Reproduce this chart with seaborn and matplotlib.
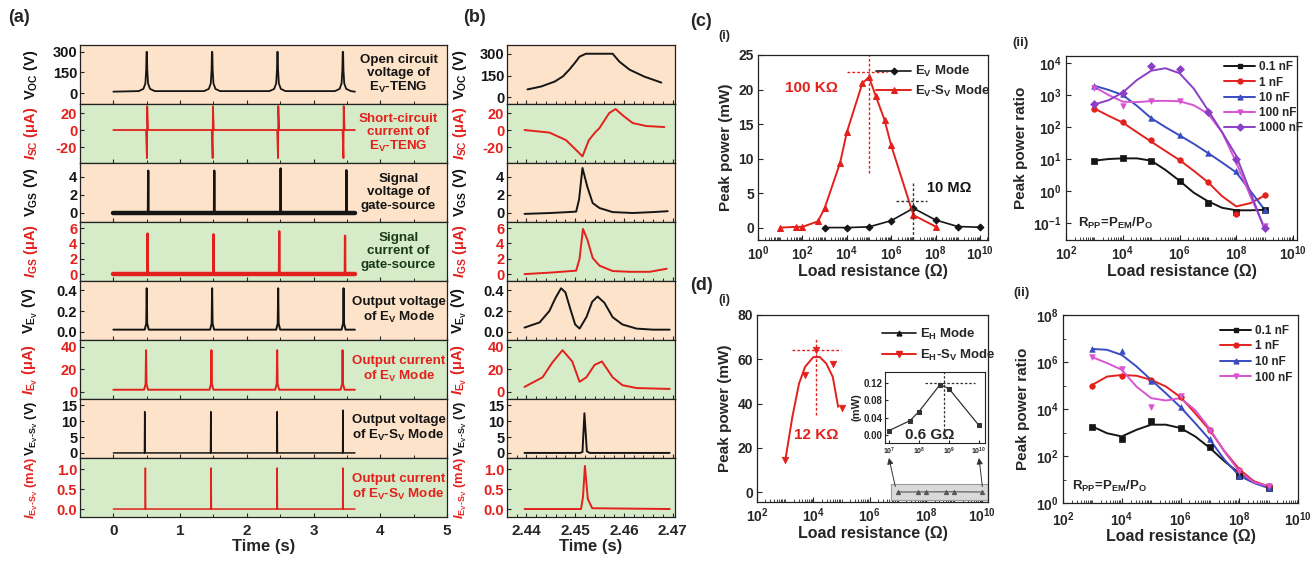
import numpy as np
import matplotlib
matplotlib.use("Agg")
import matplotlib.pyplot as plt
import seaborn as sns
from matplotlib.lines import Line2D
from matplotlib.patches import Rectangle, ConnectionPatch
from matplotlib.ticker import MultipleLocator, LogLocator, FormatStrFormatter, NullFormatter

# ---------------- (a) full time traces ----------------
a_voc_t = [0.0, 0.38, 0.45, 0.48, 0.492, 0.497, 0.503, 0.508, 0.52, 0.55, 0.62,
           1.36, 1.43, 1.46, 1.472, 1.477, 1.483, 1.488, 1.50, 1.53, 1.60,
           2.34, 2.41, 2.44, 2.452, 2.457, 2.463, 2.468, 2.48, 2.51, 2.58,
           3.32, 3.39, 3.42, 3.432, 3.437, 3.443, 3.448, 3.46, 3.49, 3.56, 3.62]
a_voc_v = [10, 14, 30, 70, 170, 300, 300, 170, 70, 30, 14,
           14, 30, 70, 170, 300, 300, 170, 70, 30, 14,
           14, 30, 70, 170, 300, 300, 170, 70, 30, 14,
           14, 30, 70, 170, 300, 300, 170, 70, 30, 14, 10]

a_isc_t = [0.0, 0.49, 0.503, 0.507, 0.52, 1.475, 1.488, 1.492, 1.505,
           2.455, 2.468, 2.472, 2.485, 3.435, 3.448, 3.452, 3.465, 3.62]
a_isc_v = [0, 0, -33, 28, 0, 0, -33, 28, 0, 0, -33, 28, 0, 0, -33, 28, 0, 0]

a_vgs_t = [0.0, 0.518, 0.522, 0.526, 1.508, 1.512, 1.516, 2.503, 2.507, 2.511,
           3.488, 3.492, 3.496, 3.62]
a_vgs_v = [0.05, 0.05, 4.7, 0.1, 0.05, 4.7, 0.1, 0.05, 4.95, 0.1, 0.05, 4.75, 0.1, 0.05]

a_igs_t = [0.0, 0.508, 0.512, 0.516, 1.497, 1.501, 1.505, 2.482, 2.486, 2.49,
           3.468, 3.472, 3.476, 3.62]
a_igs_v = [0.05, 0.05, 5.3, 0.1, 0.05, 5.2, 0.1, 0.05, 5.6, 0.1, 0.05, 5.0, 0.1, 0.05]

# thick noisy baseline of the two gate-source traces
a_base_t = [0.0, 3.62]
a_vgs_base = [0.05, 0.05]
a_igs_base = [0.05, 0.05]

a_vev_t = [0.0, 0.47, 0.493, 0.5, 0.507, 0.53, 1.45, 1.473, 1.48, 1.487, 1.51,
           2.44, 2.463, 2.47, 2.477, 2.5, 3.42, 3.443, 3.45, 3.457, 3.48, 3.62]
a_vev_v = [0.02, 0.02, 0.08, 0.42, 0.08, 0.02, 0.02, 0.08, 0.42, 0.08, 0.02,
           0.02, 0.08, 0.42, 0.08, 0.02, 0.02, 0.08, 0.42, 0.08, 0.02, 0.02]

a_iev_t = [0.0, 0.46, 0.483, 0.49, 0.497, 0.52, 1.44, 1.463, 1.47, 1.477, 1.5,
           2.425, 2.448, 2.455, 2.462, 2.485, 3.405, 3.428, 3.435, 3.442, 3.465, 3.62]
a_iev_v = [2, 2, 7, 37, 7, 2, 2, 7, 37, 7, 2, 2, 7, 37, 7, 2, 2, 7, 37, 7, 2, 2]

a_vevsv_t = [0.0, 0.466, 0.47, 0.474, 1.456, 1.46, 1.464, 2.451, 2.455, 2.459,
             3.436, 3.44, 3.444, 3.62]
a_vevsv_v = [0, 0, 13, 0, 0, 13, 0, 0, 13, 0, 0, 13.5, 0, 0]

a_ievsv_t = [0.0, 0.476, 0.48, 0.484, 1.461, 1.465, 1.469, 2.451, 2.455, 2.459,
             3.436, 3.44, 3.444, 3.62]
a_ievsv_v = [0, 0, 1.03, 0, 0, 1.03, 0, 0, 1.03, 0, 0, 1.03, 0, 0]

# ---------------- (b) zoom around one pulse ----------------
b_voc_t = [2.4402, 2.4430, 2.4458, 2.4475, 2.4488, 2.4500, 2.4509, 2.4522,
           2.4577, 2.4591, 2.4612, 2.4642, 2.4677]
b_voc_v = [55, 75, 109, 145, 191, 240, 280, 300, 300, 245, 190, 143, 102]

b_isc_t = [2.4396, 2.4447, 2.4481, 2.4502, 2.4515, 2.4528, 2.4540, 2.4550,
           2.4570, 2.4583, 2.4597, 2.4618, 2.4646, 2.4683]
b_isc_v = [0, -3, -11.8, -23.5, -31, -12, -3.5, 2.4, 20, 24.7, 17.6, 8.2, 4.7, 3.5]

b_vgs_t = [2.4396, 2.4450, 2.4502, 2.4508, 2.4515, 2.4525, 2.4536, 2.4550,
           2.4577, 2.4618, 2.4660, 2.4690]
b_vgs_v = [-0.1, 0.0, 0.15, 1.5, 5.0, 2.9, 1.1, 0.55, 0.1, 0.0, 0.1, 0.2]

b_igs_t = [2.4396, 2.4450, 2.4502, 2.4509, 2.4516, 2.4525, 2.4536, 2.4550,
           2.4577, 2.4612, 2.4653, 2.4688]
b_igs_v = [0.0, 0.2, 0.45, 2.0, 5.9, 4.5, 2.1, 1.1, 0.4, 0.3, 0.3, 0.7]

b_vev_t = [2.4396, 2.4427, 2.4447, 2.4460, 2.4471, 2.4480, 2.4490, 2.4500, 2.4509,
           2.4523, 2.4535, 2.4546, 2.4560, 2.4577, 2.4597, 2.4626, 2.4660, 2.4694]
b_vev_v = [0.04, 0.09, 0.2, 0.33, 0.42, 0.38, 0.22, 0.07, 0.03,
           0.14, 0.29, 0.34, 0.28, 0.14, 0.07, 0.03, 0.02, 0.02]

b_iev_t = [2.4396, 2.4433, 2.4453, 2.4474, 2.4494, 2.4509, 2.4523, 2.4540,
           2.4555, 2.4577, 2.4597, 2.4626, 2.4694]
b_iev_v = [4.5, 13, 26, 37, 27, 9, 13, 24, 27, 13, 6, 3.5, 2.7]

b_vevsv_t = [2.4396, 2.4510, 2.4515, 2.4519, 2.4524, 2.4530, 2.4694]
b_vevsv_v = [0, 0, 0.3, 12.5, 0.5, 0, 0]

b_ievsv_t = [2.4396, 2.4512, 2.4516, 2.4520, 2.4526, 2.4535, 2.4694]
b_ievsv_v = [0, 0, 0.3, 1.08, 0.25, 0.02, 0]

row_labels = [r"$\rm V_{OC}$ (V)", r"$I_{\rm SC}$ (μA)", r"$\rm V_{GS}$ (V)",
              r"$I_{\rm GS}$ (μA)", r"$\rm V_{E_V}$ (V)", r"$I_{\rm E_V}$ (μA)",
              r"$\rm V_{E_V\text{-}S_V}$ (V)", r"$I_{\rm E_V\text{-}S_V}$ (mA)"]
row_label_sizes = [10.5, 10.5, 10.5, 10.5, 10.5, 10.5, 9.3, 9.3]
row_ticks = [[0, 150, 300], [-20, 0, 20], [0, 2, 4], [0, 2, 4, 6],
             [0.0, 0.2, 0.4], [0, 20, 40], [0, 5, 10, 15], [0.0, 0.5, 1.0]]
row_texts = ["Open circuit\nvoltage of\nE$_{\\rm V}$-TENG",
             "Short-circuit\ncurrent of\nE$_{\\rm V}$-TENG",
             "Signal\nvoltage of\ngate-source",
             "Signal\ncurrent of\ngate-source",
             "Output voltage\nof E$_{\\rm V}$ Mode",
             "Output current\nof E$_{\\rm V}$ Mode",
             "Output voltage\nof E$_{\\rm V}$-S$_{\\rm V}$ Mode",
             "Output current\nof E$_{\\rm V}$-S$_{\\rm V}$ Mode"]

# ---------------- (c)(i) ----------------
ci_ev_x = [1e3, 1e4, 1e5, 1e6, 1e7, 1e8, 1e9, 1e10]
ci_ev_p = [0.0, 0.0, 0.1, 1.0, 2.8, 1.1, 0.15, 0.05]
ci_evsv_x = [10, 50, 100, 500, 1e3, 5e3, 1e4, 5e4, 1e5, 2e5, 5e5, 1e6, 1e7, 1e8]
ci_evsv_p = [0.0, 0.1, 0.1, 0.9, 2.8, 9.4, 13.8, 20.9, 21.8, 19.1, 15.6, 11.9, 1.8, 0.15]

# ---------------- (c)(ii) ----------------
cii_x = [1e3, 1e4, 1e5, 1e6, 1e7, 1e8, 1e9]
cii_01 = [8.9, 11, 9, 2.1, 0.41, 0.22, 0.26]
cii_1 = [360, 140, 38, 9.3, 1.95, 0.19, 0.75]
cii_10 = [1950, 1070, 195, 55, 15.5, 4.3, 0.26]
cii_100 = [1700, 470, 660, 660, 270, 8, 0.08]
cii_1000 = [520, 1170, 7900, 6600, 300, 10, 0.07]
fit_x = [1e3, 3.16e3, 1e4, 3.16e4, 1e5, 3.16e5, 1e6, 3.16e6, 1e7, 3.16e7, 1e8, 3.16e8, 1e9]
cii_01_fit = [8.9, 10, 10.5, 10.5, 8.9, 4.6, 2.1, 0.89, 0.48, 0.30, 0.25, 0.25, 0.26]
cii_1_fit = [380, 224, 138, 69, 35, 18, 9.3, 4.3, 1.9, 0.69, 0.33, 0.42, 0.72]
cii_10_fit = [1950, 1450, 1000, 460, 190, 100, 55, 30, 15.5, 7.8, 3.8, 1.0, 0.26]
cii_100_fit = [1800, 1000, 620, 600, 650, 660, 640, 480, 265, 69, 7.8, 0.69, 0.07]
cii_1000_fit = [510, 690, 1200, 2950, 5750, 6900, 4800, 1600, 340, 69, 12.6, 0.9, 0.063]

# ---------------- (d)(i) ----------------
di_eh_x = [1e7, 5e7, 1e8, 5e8, 1e9, 1e10]
di_eh_p = [0.01, 0.033, 0.054, 0.116, 0.107, 0.022]
di_ehsv_x = [1e3, 5e3, 1.2e4, 5e4, 1e5]
di_ehsv_p = [14.5, 53, 64, 58, 38]
di_fit_x = [1e3, 1.8e3, 3.1e3, 5.1e3, 1e4, 1.7e4, 2.9e4, 4.9e4, 7.6e4]
di_fit_p = [14, 34, 49, 56.6, 61, 61, 58, 52, 38.5]

# ---------------- (d)(ii) ----------------
dii_x = [1e3, 1e4, 1e5, 1e6, 1e7, 1e8, 1e9]
dii_01 = [1800, 540, 2950, 1600, 240, 14, 4.3]
dii_1 = [1.0e5, 2.6e5, 1.7e5, 3.2e4, 1300, 26, 5.1]
dii_10 = [3.6e6, 3.0e6, 1.6e5, 1.2e4, 520, 13.6, 4.3]
dii_100 = [1.6e6, 4.9e5, 1.2e4, 3.6e4, 1200, 22, 5.1]
dii_01_fit = [1800, 930, 680, 1300, 2150, 2150, 1550, 680, 220, 59, 18.6, 8.3, 4.8]
dii_1_fit = [1.07e5, 2.4e5, 2.8e5, 2.6e5, 1.74e5, 9.1e4, 3.2e4, 6.6e3, 1.23e3, 158, 27.5, 8.3, 5.1]
dii_10_fit = [3.6e6, 3.3e6, 2.0e6, 6.5e5, 1.74e5, 4.7e4, 1.2e4, 2.5e3, 490, 69, 14.5, 7.1, 4.3]
dii_100_fit = [1.6e6, 9e5, 4.7e5, 9e4, 2.9e4, 2.3e4, 2.9e4, 9e3, 1.4e3, 150, 22, 7.6, 5.1]

# ---------------- style ----------------
sns.set_style("ticks")
plt.rcParams["font.family"] = ["Liberation Sans", "DejaVu Sans"]
plt.rcParams["font.weight"] = "bold"
plt.rcParams["axes.labelweight"] = "bold"
plt.rcParams["mathtext.fontset"] = "custom"
plt.rcParams["mathtext.rm"] = "Liberation Sans:bold"
plt.rcParams["mathtext.it"] = "Liberation Sans:italic:bold"
plt.rcParams["mathtext.bf"] = "Liberation Sans:bold"
plt.rcParams["mathtext.sf"] = "Liberation Sans:bold"
plt.rcParams["axes.unicode_minus"] = False

PEACH = "#fce3c9"
GREEN = "#d6ebc8"
RED = "#e3211c"
BLACK = "#151515"
BLUE = "#3a4cc2"
MAGENTA = "#d855d2"
PURPLE = "#8a3fc6"

W, H = 1315, 563
fig = plt.figure(figsize=(W / 100, H / 100), dpi=100)


def box(l, t, r, b):
    return [l / W, 1 - b / H, (r - l) / W, (b - t) / H]


def ftext(x, y, s, **kw):
    fig.text(x / W, 1 - y / H, s, **kw)


def frame(ax, lw=0.9):
    for s in ax.spines.values():
        s.set_linewidth(lw)
        s.set_color("#222222")


a_series = [(a_voc_t, a_voc_v), (a_isc_t, a_isc_v), (a_vgs_t, a_vgs_v), (a_igs_t, a_igs_v),
            (a_vev_t, a_vev_v), (a_iev_t, a_iev_v), (a_vevsv_t, a_vevsv_v), (a_ievsv_t, a_ievsv_v)]
b_series = [(b_voc_t, b_voc_v), (b_isc_t, b_isc_v), (b_vgs_t, b_vgs_v), (b_igs_t, b_igs_v),
            (b_vev_t, b_vev_v), (b_iev_t, b_iev_v), (b_vevsv_t, b_vevsv_v), (b_ievsv_t, b_ievsv_v)]
a_baselines = {2: a_vgs_base, 3: a_igs_base}
ylims_a = [(-80, 350), (-38.8, 30.6), (-1.0, 5.55), (-0.9, 6.8),
           (-0.08, 0.49), (-6.2, 46), (-1.6, 17), (-0.2, 1.28)]
ylims_b = [(-45, 360)] + ylims_a[1:]
a_lw = [1.3, 1.3, 1.6, 1.6, 1.4, 1.4, 1.1, 1.1]
text_colors = [BLACK, RED, BLACK, "#1b3a1b", BLACK, RED, BLACK, RED]

row_top = 45
row_h = (517 - 45) / 8
for i in range(8):
    top = row_top + i * row_h
    bot = top + row_h
    c = BLACK if i % 2 == 0 else RED
    bg = PEACH if i % 2 == 0 else GREEN
    for panel in ("a", "b"):
        if panel == "a":
            ax = fig.add_axes(box(80, top, 447, bot))
            t, v = a_series[i]
            lw = a_lw[i]
            ylim = ylims_a[i]
        else:
            ax = fig.add_axes(box(507, top, 675, bot))
            t, v = b_series[i]
            lw = 1.4
            ylim = ylims_b[i]
        ax.set_facecolor(bg)
        sns.lineplot(x=t, y=v, ax=ax, color=c, linewidth=lw, estimator=None, sort=False)
        if panel == "a" and i in a_baselines:
            sns.lineplot(x=a_base_t, y=a_baselines[i], ax=ax, color=c, linewidth=3.2,
                         estimator=None, sort=False)
        ax.set_ylim(*ylim)
        ax.set_yticks(row_ticks[i])
        if i in (4, 7):
            ax.yaxis.set_major_formatter(FormatStrFormatter("%.1f"))
        if panel == "a":
            ax.set_xlim(-0.5, 5)
            ax.xaxis.set_major_locator(MultipleLocator(1))
            ax.xaxis.set_minor_locator(MultipleLocator(0.5))
            ax.text(0.868, 0.5, row_texts[i], transform=ax.transAxes, ha="center",
                    va="center", color=text_colors[i], fontsize=9.6, linespacing=1.12)
            ax.yaxis.set_label_coords(-0.108, 0.5)
        else:
            ax.set_xlim(2.436, 2.4705)
            ax.set_xticks([2.44, 2.45, 2.46, 2.47])
            ax.xaxis.set_minor_locator(MultipleLocator(0.002))
            ax.yaxis.set_label_coords(-0.225, 0.5)
        ax.set_ylabel(row_labels[i], color=c, fontsize=row_label_sizes[i])
        ax.tick_params(axis="both", which="major", direction="in", length=3, width=0.8,
                       pad=2, labelsize=10.5)
        ax.tick_params(axis="x", which="minor", direction="in", length=2, width=0.7)
        ax.tick_params(axis="y", labelcolor=c)
        frame(ax)
        if i < 7:
            ax.tick_params(axis="x", labelbottom=False)
            ax.set_xlabel("")
        else:
            ax.tick_params(axis="x", labelsize=11, pad=5)
            ax.set_xlabel("Time (s)", fontsize=12, labelpad=1)

ftext(8, 18, "(a)", fontsize=13, va="center")
ftext(463, 18, "(b)", fontsize=13, va="center")


def log_axis(ax, majors, lab=10):
    ax.set_xscale("log")
    ax.set_xticks(majors)
    ax.xaxis.set_minor_locator(LogLocator(base=10, subs=np.arange(1, 10) * 1.0, numticks=200))
    ax.xaxis.set_minor_formatter(NullFormatter())
    ax.tick_params(axis="both", which="major", direction="in", length=3.5, width=0.8,
                   labelsize=lab, pad=3)
    ax.tick_params(axis="both", which="minor", direction="in", length=2, width=0.6)
    frame(ax)


x_majors = [1e2, 1e4, 1e6, 1e8, 1e10]

# ---------------- (c)(i) ----------------
ax = fig.add_axes(box(758, 55, 988, 240))
log_axis(ax, [1e0] + x_majors)
ax.tick_params(axis="y", which="minor", left=False)
sns.lineplot(x=ci_ev_x, y=ci_ev_p, ax=ax, color=BLACK, linewidth=1.2, marker="D",
             markersize=3.5, mec=BLACK, estimator=None, sort=False, label=r"E$_{\rm V}$ Mode")
sns.lineplot(x=ci_evsv_x, y=ci_evsv_p, ax=ax, color=RED, linewidth=1.4, marker="^",
             markersize=4, mec=RED, estimator=None, sort=False,
             label=r"E$_{\rm V}$-S$_{\rm V}$ Mode")
ax.plot([1e5, 1e5], [7.9, 25.5], color=RED, ls=(0, (2, 1.5)), lw=1.0)
ax.plot([10**4.02, 10**5.82], [22.6, 22.6], color=RED, ls=(0, (2, 1.5)), lw=1.0)
ax.plot([1e7, 1e7], [6.5, -1.7], color="#333333", ls=(0, (2, 1.5)), lw=1.0)
ax.plot([10**6.2, 10**7.6], [3.8, 3.8], color="#333333", ls=(0, (2, 1.5)), lw=1.0)
ax.text(10**2.4, 20.2, "100 KΩ", color=RED, fontsize=11, ha="center", va="center")
ax.text(10**8.6, 5.8, "10 MΩ", color=BLACK, fontsize=10.5, ha="center", va="center")
ax.set_xlim(1, 10**10.36)
ax.set_ylim(-1.8, 25)
ax.set_yticks([0, 5, 10, 15, 20, 25])
ax.set_xlabel("Load resistance (Ω)", fontsize=11.5, labelpad=1)
ax.set_ylabel("Peak power (mW)", fontsize=11)
ax.legend(loc="upper left", bbox_to_anchor=(0.475, 1.0), frameon=False, fontsize=9.5,
          handlelength=2.6, handletextpad=0.3, labelspacing=0.35, borderaxespad=0.3)
ftext(690, 22, "(c)", fontsize=13, va="center")
ftext(718, 36, "(i)", fontsize=9, va="center")

# ---------------- (c)(ii) ----------------
ax = fig.add_axes(box(1066, 56, 1297, 240))
log_axis(ax, x_majors)
ax.set_yscale("log")
cii_sets = [("0.1 nF", BLACK, "s", cii_01, cii_01_fit), ("1 nF", RED, "o", cii_1, cii_1_fit),
            ("10 nF", BLUE, "^", cii_10, cii_10_fit), ("100 nF", MAGENTA, "v", cii_100, cii_100_fit),
            ("1000 nF", PURPLE, "D", cii_1000, cii_1000_fit)]
handles = []
for name, col, mk, pts, fit in cii_sets:
    sns.lineplot(x=fit_x, y=fit, ax=ax, color=col, linewidth=1.4, estimator=None, sort=False)
    sns.scatterplot(x=cii_x, y=pts, ax=ax, color=col, marker=mk, s=16, edgecolor=col,
                    linewidth=0.5, zorder=4)
    handles.append(Line2D([], [], color=col, marker=mk, markersize=3.5, lw=1.4, label=name))
ax.set_xlim(1e2, 10**10.14)
ax.set_ylim(10**-1.53, 10**4.22)
ax.set_yticks([1e-1, 1e0, 1e1, 1e2, 1e3, 1e4])
ax.yaxis.set_minor_locator(LogLocator(base=10, subs=np.arange(2, 10) * 1.0, numticks=200))
ax.yaxis.set_minor_formatter(NullFormatter())
ax.tick_params(axis="y", which="minor", length=0)
ax.legend(handles=handles, loc="upper left", bbox_to_anchor=(0.655, 1.01), frameon=False,
          fontsize=8.5, handlelength=2.6, handletextpad=0.3, labelspacing=0.28,
          borderaxespad=0.2)
ax.text(0.05, 0.09, r"R$_{\rm PP}$=P$_{\rm EM}$/P$_{\rm O}$", transform=ax.transAxes,
        fontsize=9.5, va="center")
ax.set_xlabel("Load resistance (Ω)", fontsize=11.5, labelpad=1)
ax.set_ylabel("Peak power ratio", fontsize=11)
ftext(1012, 43, "(ii)", fontsize=9.5, va="center")

# ---------------- (d)(i) ----------------
ax = fig.add_axes(box(757, 315, 988, 502))
log_axis(ax, x_majors)
ax.tick_params(axis="y", which="minor", left=False)
ax.add_patch(Rectangle((10**6.75, -3.5), 10**10.2 - 10**6.75, 7, facecolor="#d9d9d9",
                       edgecolor="#9a9a9a", lw=0.8, zorder=1))
sns.lineplot(x=di_eh_x, y=di_eh_p, ax=ax, color="#555555", linewidth=0.8, marker="^",
             markersize=3, mec="#555555", estimator=None, sort=False, zorder=2)
sns.lineplot(x=di_fit_x, y=di_fit_p, ax=ax, color=RED, linewidth=1.4, estimator=None, sort=False)
sns.scatterplot(x=di_ehsv_x, y=di_ehsv_p, ax=ax, color=RED, marker="v", s=22, edgecolor=RED,
                linewidth=0.5, zorder=4)
ax.plot([1.2e4, 1.2e4], [34.7, 69.4], color=RED, ls=(0, (2, 1.5)), lw=1.0)
ax.plot([10**3.26, 10**4.97], [64.2, 64.2], color=RED, ls=(0, (2, 1.5)), lw=1.0)
ax.text(10**4.1, 25.8, "12 KΩ", color=RED, fontsize=11, ha="center", va="center")
ax.set_xlim(1e2, 10**10.2)
ax.set_ylim(-4.5, 80)
ax.set_yticks([0, 20, 40, 60, 80])
ax.set_xlabel("Load resistance (Ω)", fontsize=11.5, labelpad=1)
ax.set_ylabel("Peak power (mW)", fontsize=11)
d_handles = [Line2D([], [], color=BLACK, marker="^", markersize=3.5, lw=1.2,
                    label=r"E$_{\rm H}$ Mode"),
             Line2D([], [], color=RED, marker="v", markersize=4, lw=1.4,
                    label=r"E$_{\rm H}$-S$_{\rm V}$ Mode")]
ax.legend(handles=d_handles, loc="upper left", bbox_to_anchor=(0.5, 0.985), frameon=False,
          fontsize=9.5, handlelength=2.6, handletextpad=0.3, labelspacing=0.45,
          borderaxespad=0.3)
ax_main_d = ax
ftext(690, 285, "(d)", fontsize=13, va="center")
ftext(718, 300, "(i)", fontsize=9, va="center")

# inset
axi = fig.add_axes(box(885, 372, 985, 443))
axi.set_xscale("log")
sns.lineplot(x=di_eh_x, y=di_eh_p, ax=axi, color="#333333", linewidth=0.9, marker="s",
             markersize=2.5, mec="#333333", estimator=None, sort=False)
axi.plot([10**8.85, 10**8.85], [0.0, 0.15], color="#333333", ls=(0, (2, 1.5)), lw=0.9)
axi.plot([10**8.2, 10**9.87], [0.12, 0.12], color="#333333", ls=(0, (2, 1.5)), lw=0.9)
axi.text(10**8.35, 0.0, "0.6 GΩ", fontsize=11, ha="center", va="center")
axi.set_xlim(10**6.87, 10**10.2)
axi.set_ylim(-0.0185, 0.1455)
axi.set_xticks([1e7, 1e8, 1e9, 1e10])
axi.xaxis.set_minor_locator(LogLocator(base=10, subs=[], numticks=10))
axi.set_yticks([0.0, 0.04, 0.08, 0.12])
axi.yaxis.set_major_formatter(FormatStrFormatter("%.2f"))
axi.tick_params(axis="x", labelsize=5, direction="in", length=2, pad=2)
axi.tick_params(axis="y", labelsize=7, direction="in", length=2, pad=2)
axi.set_ylabel("(mW)", fontsize=8, labelpad=1)
frame(axi, 0.8)
for xb, xm in ((1e7, 10**6.91), (1e10, 10**10.0)):
    con = ConnectionPatch(xyA=(xm, 2.5), coordsA=ax_main_d.transData,
                          xyB=(xb, -0.053), coordsB=axi.transData,
                          arrowstyle="-|>", mutation_scale=9, color="#333333", lw=0.7)
    fig.add_artist(con)

# ---------------- (d)(ii) ----------------
ax = fig.add_axes(box(1063, 315, 1298, 503))
log_axis(ax, x_majors)
ax.tick_params(axis="x", which="major", pad=5)
ax.set_yscale("log")
dii_sets = [("0.1 nF", BLACK, "s", dii_01, dii_01_fit), ("1 nF", RED, "o", dii_1, dii_1_fit),
            ("10 nF", BLUE, "^", dii_10, dii_10_fit), ("100 nF", MAGENTA, "v", dii_100, dii_100_fit)]
handles = []
for name, col, mk, pts, fit in dii_sets:
    sns.lineplot(x=fit_x, y=fit, ax=ax, color=col, linewidth=1.4, estimator=None, sort=False)
    sns.scatterplot(x=dii_x, y=pts, ax=ax, color=col, marker=mk, s=16, edgecolor=col,
                    linewidth=0.5, zorder=4)
    handles.append(Line2D([], [], color=col, marker=mk, markersize=3.5, lw=1.4, label=name))
ax.set_xlim(1e2, 1e10)
ax.set_ylim(1, 1e8)
ax.set_yticks([1e0, 1e2, 1e4, 1e6, 1e8])
ax.yaxis.set_minor_locator(LogLocator(base=10, subs=[1.0], numticks=200))
ax.yaxis.set_minor_formatter(NullFormatter())
ax.legend(handles=handles, loc="upper left", bbox_to_anchor=(0.64, 0.985), frameon=False,
          fontsize=8.5, handlelength=2.6, handletextpad=0.3, labelspacing=0.3,
          borderaxespad=0.2)
ax.text(0.04, 0.09, r"R$_{\rm PP}$=P$_{\rm EM}$/P$_{\rm O}$", transform=ax.transAxes,
        fontsize=9.5, va="center")
ax.set_xlabel("Load resistance (Ω)", fontsize=11.5, labelpad=0)
ax.set_ylabel("Peak power ratio", fontsize=11)
ftext(1013, 293, "(ii)", fontsize=9.5, va="center")

fig.savefig("out.png", dpi=100)
